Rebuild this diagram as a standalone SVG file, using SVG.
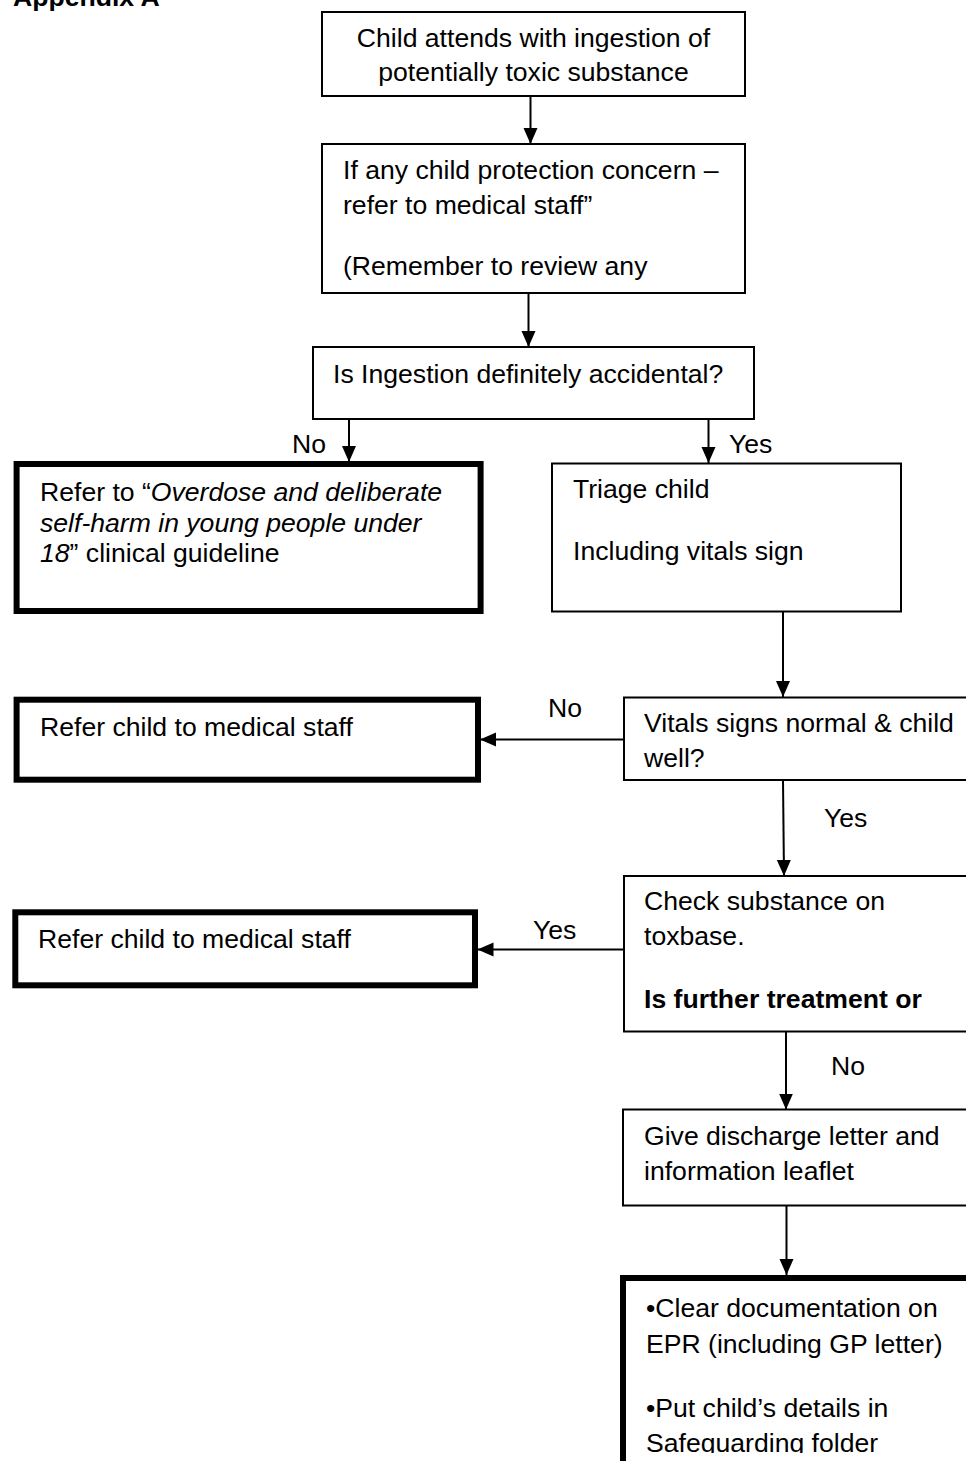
<svg xmlns="http://www.w3.org/2000/svg" width="966" height="1461" viewBox="0 0 966 1461">
<style>
text{font-family:"Liberation Sans",Arial,sans-serif;font-size:26.6px;fill:#000}
.b{fill:#fff;stroke:#000;stroke-width:2}
.t{fill:#fff;stroke:#000;stroke-width:6}
.c{stroke:#000;stroke-width:2;fill:none}
.bold{font-weight:bold}
.i{font-style:italic}
</style>
<defs>
<marker id="ah" markerUnits="userSpaceOnUse" markerWidth="16" markerHeight="15" refX="16" refY="7.5" orient="auto">
<path d="M0,0.5 L16,7.5 L0,14.5 Z" fill="#000"/>
</marker>
<clipPath id="c1"><rect x="322" y="12" width="423" height="74"/></clipPath>
<clipPath id="c11"><rect x="626" y="1281" width="340" height="172"/></clipPath>
</defs>
<text class="bold" x="13" y="6" font-size="26">Appendix A</text>
<g id="n1"><rect class="b" x="322" y="12" width="423" height="84"/>
<g clip-path="url(#c1)"><text x="533.5" y="46.5" text-anchor="middle">Child attends with ingestion of</text><text x="533.5" y="81" text-anchor="middle">potentially toxic substance</text></g></g>
<g id="n2"><rect class="b" x="322" y="144" width="423" height="149"/>
<text x="343" y="178.5">If any child protection concern –</text><text x="343" y="213.5">refer to medical staff”</text><text x="343" y="275">(Remember to review any</text></g>
<g id="n3"><rect class="b" x="313" y="347" width="441" height="72"/>
<text x="333" y="382.5">Is Ingestion definitely accidental?</text></g>
<g id="n4"><rect class="t" x="16.6" y="464" width="464" height="147"/>
<text x="40" y="500.5">Refer to “<tspan class="i">Overdose and deliberate</tspan></text><text x="40" y="531.5" class="i">self-harm in young people under</text><text x="40" y="561.5"><tspan class="i">18</tspan>” clinical guideline</text></g>
<g id="n5"><rect class="b" x="552" y="463.5" width="349" height="148"/>
<text x="573" y="498">Triage child</text><text x="573" y="560">Including vitals sign</text></g>
<g id="n6"><rect class="b" x="624" y="697.5" width="360" height="82.5"/>
<text x="644" y="731.5">Vitals signs normal &amp; child</text><text x="644" y="766.5">well?</text></g>
<g id="n7"><rect class="t" x="16.6" y="699.7" width="461.4" height="80"/>
<text x="40" y="736">Refer child to medical staff</text></g>
<g id="n8"><rect class="b" x="624" y="876" width="360" height="155.5"/>
<text x="644" y="910">Check substance on</text><text x="644" y="945">toxbase.</text><text x="644" y="1008" class="bold">Is further treatment or</text></g>
<g id="n9"><rect class="t" x="15.3" y="912.3" width="459.7" height="73"/>
<text x="38" y="948">Refer child to medical staff</text></g>
<g id="n10"><rect class="b" x="623" y="1109.5" width="360" height="96"/>
<text x="644" y="1145">Give discharge letter and</text><text x="644" y="1180">information leaflet</text></g>
<g id="n11"><rect class="t" x="623" y="1278" width="360" height="300"/>
<g clip-path="url(#c11)"><text x="646" y="1316.5">•Clear documentation on</text><text x="646" y="1353">EPR (including GP letter)</text><text x="646" y="1416.5">•Put child’s details in</text><text x="646" y="1451.5">Safeguarding folder</text></g></g>
<g id="connectors">
<line class="c" x1="530.5" y1="96" x2="530.5" y2="144" marker-end="url(#ah)"/>
<line class="c" x1="528.5" y1="293" x2="528.5" y2="347" marker-end="url(#ah)"/>
<line class="c" x1="349" y1="419" x2="349" y2="462" marker-end="url(#ah)"/>
<line class="c" x1="708.5" y1="419" x2="708.5" y2="463" marker-end="url(#ah)"/>
<line class="c" x1="783" y1="611.5" x2="783" y2="697" marker-end="url(#ah)"/>
<line class="c" x1="623" y1="739.5" x2="480" y2="739.5" marker-end="url(#ah)"/>
<line class="c" x1="783" y1="780" x2="784" y2="876" stroke-width="1.5" marker-end="url(#ah)"/>
<line class="c" x1="623" y1="949.5" x2="477.5" y2="949.5" marker-end="url(#ah)"/>
<line class="c" x1="786" y1="1031.5" x2="786" y2="1109.5" marker-end="url(#ah)"/>
<line class="c" x1="786.5" y1="1205.5" x2="786.5" y2="1275" marker-end="url(#ah)"/>
<text x="292" y="453">No</text>
<text x="729" y="453">Yes</text>
<text x="548" y="717">No</text>
<text x="824" y="827">Yes</text>
<text x="533" y="939">Yes</text>
<text x="831" y="1075">No</text>
</g>
</svg>
